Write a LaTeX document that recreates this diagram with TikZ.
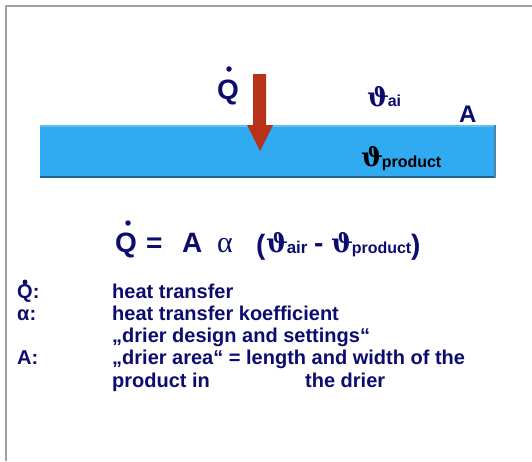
\documentclass[tikz,border=0pt]{standalone}
\usepackage{fontspec}
\setmainfont{Liberation Sans}
\newfontfamily\serifgr{Liberation Serif}
\newfontfamily\dvs{DejaVu Serif}
\definecolor{navy}{RGB}{12,12,112}
\definecolor{barblue}{RGB}{48,170,240}
\definecolor{bardark}{RGB}{30,100,150}
\definecolor{arrowred}{RGB}{184,50,26}
\definecolor{framegray}{RGB}{160,160,160}
\newcommand{\thsym}{{\fontsize{26}{28}\selectfont\dvs\bfseries ϑ}\kern-1.5pt}
\begin{document}
\begin{tikzpicture}[x=1pt,y=-1pt,
  txt/.style={inner sep=0pt,anchor=base west,text=navy,font=\bfseries},
  big/.style={txt,font=\fontsize{28}{30}\selectfont\bfseries},
  mid/.style={txt,font=\fontsize{24}{26}\selectfont\bfseries},
  leg/.style={txt,font=\fontsize{20}{22}\selectfont\bfseries},
  sub/.style={txt,font=\fontsize{16}{18}\selectfont\bfseries},
  qdot/.style={circle,fill=navy,inner sep=0pt,minimum size=5.5pt}]
\useasboundingbox (0,0) rectangle (532,461);
% frame
\draw[framegray,line width=2.5pt] (6,461) -- (6,6) -- (532,6);
% bar
\fill[barblue] (40,125) rectangle (496,178);
\fill[bardark] (40,176) rectangle (496,178);
\fill[bardark!80] (493.5,125) rectangle (496,178);
\fill[white,opacity=0.25] (40,125) rectangle (493.5,126.5);
% arrow
\fill[arrowred] (253,74) -- (266,74) -- (266,125) -- (273,125) -- (260,151) -- (247,125) -- (253,125) -- cycle;
% top labels
\node[big] (q1) at (217,99) {Q};
\node[qdot] (q1d) at (229,69) {};
\node[sub] (t1) at (367,106) {\thsym ai};
\node[mid] (a1) at (459,122) {A};
\node[sub,text=black] (t2) at (361,166) {\thsym\raisebox{-1pt}{product}};
% formula
\node[big] (fq) at (115,252) {Q};
\node[qdot] (fqd) at (128,223) {};
\node[big] (feq) at (146,252) {=};
\node[big] (fa) at (182,252) {A};
\node[txt,font=\fontsize{30}{32}\selectfont\serifgr] (fal) at (217,252) {α};
\node[big] (fl) at (256,254) {(};
\node[txt,font=\fontsize{17}{19}\selectfont\bfseries] (fs1) at (266,252) {\thsym\raisebox{-1.5pt}{air}};
\node[big] (fm) at (314,252) {-};
\node[txt,font=\fontsize{16}{18}\selectfont\bfseries] (fs2) at (331,252) {\thsym\raisebox{-1.5pt}{product}};
\node[big] (fr) at (411,254) {)};
% legend
\node[leg] (l1) at (17,298) {Q:};
\node[qdot,minimum size=5pt] (l1d) at (25,282) {};
\node[leg] (l1t) at (112,298) {heat transfer};
\node[leg] (l2) at (17,320) {α:};
\node[leg] (l2t) at (112,320) {heat transfer koefficient};
\node[leg] (l3t) at (112,342) {„drier design and settings“};
\node[leg] (l4) at (17,364) {A:};
\node[leg] (l4t) at (112,364) {„drier area“ = length and width of the};
\node[leg] (l5t) at (112,387) {product in};
\node[leg] (l5u) at (305,387) {the drier};
\end{tikzpicture}
\end{document}
